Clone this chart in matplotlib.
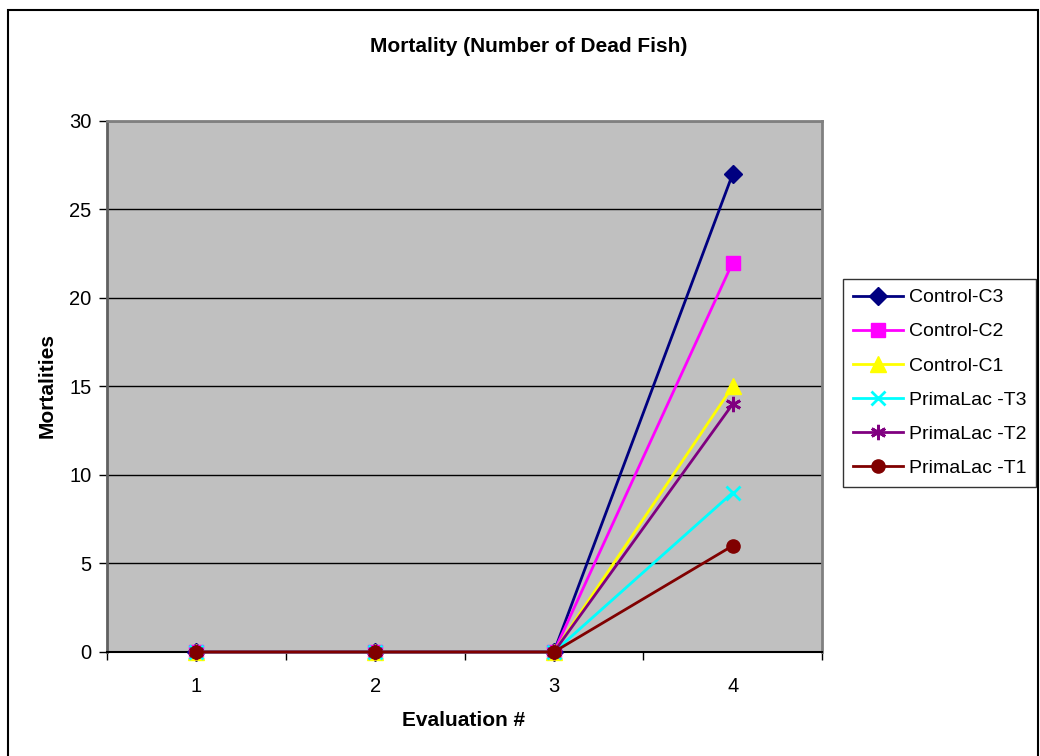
"""Mortality (number of dead fish) per evaluation, Excel-style line chart."""

import matplotlib

matplotlib.use("Agg")
import matplotlib.pyplot as plt
from matplotlib.patches import Rectangle

plt.rcParams["font.family"] = ["Liberation Sans", "DejaVu Sans"]

evaluations = [1, 2, 3, 4]
series_names = [
    "Control-C3",
    "Control-C2",
    "Control-C1",
    "PrimaLac -T3",
    "PrimaLac -T2",
    "PrimaLac -T1",
]
control_c3 = [0, 0, 0, 27]
control_c2 = [0, 0, 0, 22]
control_c1 = [0, 0, 0, 15]
primalac_t3 = [0, 0, 0, 9]
primalac_t2 = [0, 0, 0, 14]
primalac_t1 = [0, 0, 0, 6]
y_ticks = [0, 5, 10, 15, 20, 25, 30]

series_values = [control_c3, control_c2, control_c1, primalac_t3, primalac_t2, primalac_t1]
colors = ["#000080", "#FF00FF", "#FFFF00", "#00FFFF", "#800080", "#800000"]
markers = ["D", "s", "^", "x", (6, 2, 0), "o"]
marker_sizes = [9.5, 9.5, 11, 10, 11, 9.5]

fig = plt.figure(figsize=(10.4, 7.56), dpi=100)
ax = fig.add_axes([0.1029, 0.1376, 0.6875, 0.7024])
ax.set_facecolor("#C0C0C0")

# outer chart border
fig.patches.append(
    Rectangle((8 / 1040, -0.01), 1030 / 1040, 1 - 10 / 756 + 0.01,
              transform=fig.transFigure, fill=False,
              edgecolor="black", linewidth=1.5, zorder=0)
)

for name, vals, c, m, ms in zip(series_names, series_values, colors, markers, marker_sizes):
    mew = 2 if m in ("x", (6, 2, 0)) else 1
    ax.plot(evaluations, vals, color=c, linewidth=2, marker=m, markersize=ms,
            markerfacecolor=c, markeredgecolor=c, markeredgewidth=mew,
            label=name, clip_on=False, zorder=3)

ax.set_xlim(0.5, 4.5)
ax.set_ylim(0, 30)
ax.set_yticks(y_ticks)
ax.set_xticks(evaluations)
ax.set_xticks([0.5, 1.5, 2.5, 3.5, 4.5], minor=True)
ax.tick_params(axis="x", which="major", length=0, pad=18, labelsize=14.5)
ax.tick_params(axis="x", which="minor", length=6, direction="out", width=1)
ax.tick_params(axis="y", length=6, direction="out", width=1, pad=5, labelsize=14.5)
ax.yaxis.grid(True, color="black", linewidth=1)
ax.set_axisbelow(True)

for side in ("top", "right"):
    ax.spines[side].set_color("#808080")
    ax.spines[side].set_linewidth(2)
ax.spines["left"].set_color("#606060")
ax.spines["left"].set_linewidth(2)
ax.spines["bottom"].set_color("black")
ax.spines["bottom"].set_linewidth(1.5)

fig.text(529 / 1040, 1 - 47 / 756, "Mortality (Number of Dead Fish)",
         ha="center", va="center", fontsize=15, fontweight="bold")
fig.text(47 / 1040, 1 - 386 / 756, "Mortalities", rotation=90,
         ha="center", va="center", fontsize=15, fontweight="bold")
fig.text(464 / 1040, 1 - 721 / 756, "Evaluation #",
         ha="center", va="center", fontsize=15, fontweight="bold")

leg = fig.legend(loc="upper left", bbox_to_anchor=(843 / 1040, 1 - 279 / 756),
                 frameon=True, fancybox=False, fontsize=14, handlelength=2.6,
                 labelspacing=0.85, borderpad=0.5, handletextpad=0.3,
                 borderaxespad=0)
leg.get_frame().set_edgecolor("black")
leg.get_frame().set_linewidth(1)

fig.savefig("out.png", dpi=100)
